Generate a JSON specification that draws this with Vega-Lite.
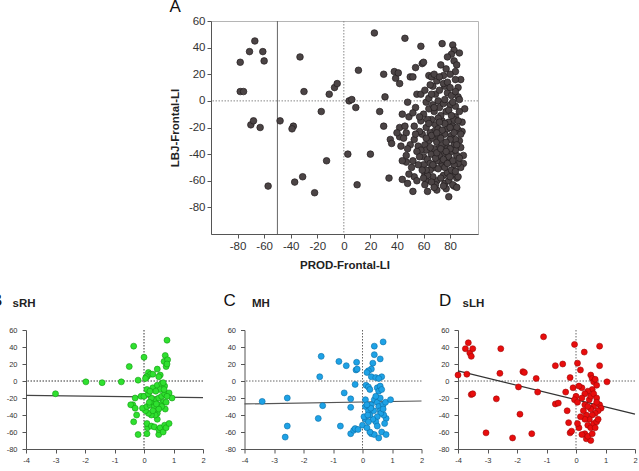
{
  "$schema": "https://vega.github.io/schema/vega-lite/v6.json",
  "background": "white",
  "padding": {"left": -9, "top": -3, "right": 0, "bottom": 0},
  "config": {
    "font": "Liberation Sans",
    "locale": {"number": {"decimal": ".", "thousands": ",", "grouping": [3], "currency": ["$", ""], "minus": "-"}},
    "view": {"stroke": null},
    "axis": {"grid": false, "labelOverlap": false, "labelFlush": false, "tickCount": 20, "format": "d", "domainColor": "#555", "tickColor": "#555", "labelColor": "#333", "titleColor": "#222", "titleFontWeight": "bold", "labelFont": "Liberation Sans", "titleFont": "Liberation Sans"},
    "title": {"font": "Liberation Sans", "fontWeight": "normal", "fontSize": 17, "anchor": "start", "color": "#111"}
  },
  "datasets": {
    "frontal": [
      {"x":-78,"y":29},{"x":-78,"y":7},{"x":-75.5,"y":7},{"x":-71,"y":37},{"x":-67,"y":45},{"x":-61,"y":37},{"x":-60,"y":30},{"x":-70,"y":-18},{"x":-68,"y":-15},{"x":-63,"y":-20},{"x":-57,"y":-64},{"x":-48,"y":-15},{"x":-38,"y":-19},{"x":-39,"y":-21},{"x":-37,"y":-61},{"x":-31,"y":-57},{"x":-33,"y":33},{"x":-30,"y":7},{"x":-22,"y":-69},{"x":-17,"y":-8},{"x":-13,"y":-45},{"x":-11,"y":5},{"x":-7,"y":10},{"x":-5,"y":13},{"x":3,"y":-40},{"x":4,"y":0},{"x":6,"y":1},{"x":9,"y":-5},{"x":10,"y":-63},{"x":11,"y":23},{"x":20,"y":-40},{"x":23,"y":51},{"x":27,"y":-8},{"x":30,"y":-19},{"x":30,"y":20},{"x":31,"y":3},{"x":34,"y":-58},
      {"x":38,"y":22},{"x":39,"y":17},{"x":41,"y":21},{"x":42,"y":13},{"x":35,"y":-29},{"x":36,"y":-32},{"x":42,"y":-20},{"x":42,"y":-27},{"x":43,"y":-34},{"x":44,"y":-59},{"x":46,"y":-19},{"x":46,"y":47},{"x":47,"y":-24},{"x":47,"y":-41},{"x":47,"y":-46},{"x":48,"y":-62},{"x":48,"y":-1},{"x":49,"y":-12},{"x":50,"y":18},{"x":52,"y":18},{"x":52,"y":-45},{"x":52,"y":-68},{"x":53,"y":-57},{"x":53,"y":-19},{"x":53,"y":-29},{"x":54,"y":25},{"x":54,"y":-5},{"x":55,"y":-60},{"x":55,"y":5},{"x":56,"y":-34},{"x":58,"y":5},{"x":58,"y":41},{"x":59,"y":28},{"x":60,"y":29},{"x":58,"y":-15},{"x":60,"y":-42},{"x":61,"y":-55},{"x":62,"y":-1},{"x":62,"y":-60},{"x":63,"y":-68},{"x":64,"y":19},{"x":66,"y":18},{"x":67,"y":11},{"x":68,"y":-8},{"x":70,"y":-67},{"x":71,"y":0},{"x":73,"y":27},{"x":74,"y":43},{"x":75,"y":19},{"x":76,"y":11},{"x":77,"y":-66},{"x":78,"y":6},{"x":79,"y":-72},{"x":82,"y":42},{"x":83,"y":38},{"x":83,"y":30},{"x":84,"y":22},{"x":85,"y":27},{"x":87,"y":36},{"x":86,"y":10},{"x":88,"y":16},{"x":91,"y":-6},{"x":89,"y":-16},{"x":89,"y":-23},{"x":90,"y":-41},{"x":90,"y":-47},{"x":88,"y":-50},{"x":85,"y":-58},{"x":83,"y":-64},
      {"x":60,"y":-10},{"x":62,"y":-20},{"x":64,"y":-30},{"x":66,"y":-40},{"x":68,"y":-50},{"x":70,"y":-60},{"x":72,"y":-5},{"x":74,"y":-15},{"x":76,"y":-25},{"x":78,"y":-35},{"x":80,"y":-45},{"x":82,"y":-55},{"x":84,"y":-12},{"x":86,"y":-22},{"x":63,"y":-44},{"x":65,"y":-52},{"x":67,"y":-28},{"x":69,"y":-18},{"x":71,"y":-36},{"x":73,"y":-46},{"x":75,"y":-56},{"x":77,"y":-8},{"x":79,"y":-16},{"x":81,"y":-26},{"x":83,"y":-33},{"x":85,"y":-41},{"x":87,"y":-30},{"x":61,"y":-33},{"x":64,"y":-6},{"x":66,"y":-14},{"x":68,"y":-23},{"x":70,"y":-31},{"x":72,"y":-41},{"x":74,"y":-49},{"x":76,"y":-62},{"x":78,"y":-54},{"x":80,"y":-3},{"x":82,"y":-19},{"x":84,"y":-29},{"x":86,"y":-47},{"x":59,"y":-25},{"x":62,"y":-37},{"x":65,"y":-47},{"x":67,"y":-57},{"x":69,"y":-63},{"x":71,"y":-21},{"x":73,"y":-11},{"x":75,"y":-2},{"x":77,"y":-44},{"x":79,"y":-60},{"x":81,"y":-38},{"x":83,"y":-48},{"x":85,"y":-20},{"x":87,"y":-8},{"x":60,"y":-48},{"x":63,"y":-56},{"x":66,"y":-61},{"x":70,"y":-45},{"x":72,"y":-27},{"x":74,"y":-33},{"x":76,"y":-39},{"x":78,"y":-21},{"x":80,"y":-29},{"x":82,"y":-63},{"x":84,"y":-4},{"x":86,"y":3},{"x":88,"y":-35},{"x":57,"y":-23},{"x":61,"y":8},{"x":64,"y":2},{"x":67,"y":-3},{"x":69,"y":5},{"x":72,"y":8},{"x":75,"y":13},{"x":78,"y":14},{"x":81,"y":4},{"x":84,"y":7},{"x":87,"y":1},{"x":62,"y":-52},{"x":65,"y":-24},{"x":68,"y":-36},{"x":71,"y":-51},{"x":73,"y":-58},{"x":76,"y":-50},{"x":79,"y":-42},{"x":81,"y":-52},{"x":84,"y":-37},{"x":86,"y":-57},{"x":88,"y":-25},{"x":58,"y":-37},{"x":60,"y":-58},{"x":63,"y":-14},{"x":66,"y":-26},{"x":69,"y":-43},{"x":71,"y":-13},{"x":74,"y":-22},{"x":77,"y":-31},{"x":80,"y":-36},{"x":83,"y":-14},{"x":85,"y":-33},{"x":87,"y":-43},{"x":56,"y":-48},{"x":59,"y":-52},{"x":62,"y":-28},{"x":65,"y":-35},{"x":68,"y":-65},{"x":70,"y":-39},{"x":73,"y":-28},{"x":76,"y":-17},{"x":79,"y":-7},{"x":82,"y":-45},{"x":85,"y":-65},{"x":61,"y":-63},{"x":64,"y":-17},{"x":67,"y":-48},{"x":70,"y":-24},{"x":73,"y":-36},{"x":75,"y":-44},{"x":78,"y":-47},{"x":81,"y":-11},{"x":84,"y":-53},{"x":75,"y":-64},{"x":80,"y":-57},{"x":55,"y":-38},{"x":57,"y":-12},{"x":68,"y":-5},{"x":72,"y":-16},{"x":77,"y":-38},{"x":80,"y":-20},{"x":83,"y":-24},{"x":86,"y":-15},{"x":52,"y":-9},{"x":54,"y":-25},{"x":50,"y":-33},{"x":45,"y":-28},{"x":48,"y":-36},{"x":51,"y":-50},{"x":44,"y":-45},{"x":49,"y":-55},{"x":57,"y":-42},{"x":44,"y":-10},{"x":40,"y":-24},
      {"x":65,"y":12},{"x":68,"y":20},{"x":70,"y":15},{"x":77,"y":24},{"x":80,"y":20},{"x":81,"y":35},{"x":78,"y":33},{"x":72,"y":18},{"x":66,"y":5},{"x":84,"y":16},{"x":80,"y":10},{"x":76,"y":1},{"x":82,"y":-1}
    ],
    "sRH": [
      {"x":-3,"y":-15},{"x":-1.97,"y":-1},{"x":-1.42,"y":-2},{"x":-0.77,"y":-1},{"x":-0.5,"y":17},{"x":-0.35,"y":41},{"x":0,"y":28},{"x":0.1,"y":5},{"x":0.78,"y":48},
      {"x":0.72,"y":30},{"x":0.68,"y":23},{"x":0.75,"y":17},{"x":0.8,"y":25},{"x":0.78,"y":20},{"x":0.45,"y":14},{"x":0.55,"y":7},{"x":0.15,"y":10},{"x":0.22,"y":8},{"x":0.3,"y":8},{"x":0.5,"y":5},{"x":-0.2,"y":1},{"x":0.08,"y":5},{"x":0.05,"y":3},
      {"x":-0.3,"y":-20},{"x":-0.38,"y":-28},{"x":-0.45,"y":-28},{"x":-0.3,"y":-32},{"x":-0.1,"y":-18},{"x":0,"y":-18},{"x":-0.35,"y":-48},{"x":-0.25,"y":-40},{"x":-0.2,"y":-63},{"x":0.1,"y":-62},{"x":0.12,"y":-55},{"x":0.1,"y":-50},{"x":0.25,"y":-53},{"x":0.35,"y":-54},{"x":0.5,"y":-63},{"x":0.5,"y":-57},{"x":0.55,"y":-55},{"x":0.65,"y":-60},{"x":0.7,"y":-52},{"x":0.75,"y":-55},{"x":0.85,"y":-50},
      {"x":0.45,"y":-45},{"x":0.45,"y":-38},{"x":0.38,"y":-40},{"x":0.25,"y":-40},{"x":0.15,"y":-38},{"x":0.05,"y":-35},{"x":-0.05,"y":-32},{"x":0.1,"y":-30},{"x":0.2,"y":-28},{"x":0.3,"y":-25},{"x":0.4,"y":-22},{"x":0.5,"y":-20},{"x":0.6,"y":-18},{"x":0.7,"y":-15},{"x":0.85,"y":-14},{"x":0.95,"y":-20},{"x":0.78,"y":-18},{"x":0.65,"y":-25},{"x":0.55,"y":-28},{"x":0.35,"y":-30},{"x":0.25,"y":-20},{"x":0.15,"y":-15},{"x":0.1,"y":-10},{"x":0.3,"y":-8},{"x":0.45,"y":-5},{"x":0.6,"y":-3},{"x":0.7,"y":-6},{"x":0.65,"y":-2},{"x":0.55,"y":-10},{"x":0.4,"y":-12},{"x":0.2,"y":-12},{"x":0.72,"y":-33},{"x":0.6,"y":-30},{"x":0.5,"y":-33},{"x":0.42,"y":-27},{"x":0.3,"y":-35},{"x":0.18,"y":-25},{"x":0.75,"y":-25},{"x":0.68,"y":-10}
    ],
    "MH": [
      {"x":-3.4,"y":-24},{"x":-2.55,"y":-20},{"x":-2.55,"y":-53},{"x":-2.62,"y":-66},{"x":-1.4,"y":29},{"x":-1.45,"y":5},{"x":-1.35,"y":-29},{"x":-1.5,"y":-44},{"x":-0.8,"y":23},{"x":-0.55,"y":18},{"x":-0.75,"y":-53},{"x":-0.62,"y":-14},{"x":-0.4,"y":-21},{"x":-0.4,"y":-31},{"x":-0.2,"y":22},{"x":-0.22,"y":13},{"x":-0.18,"y":14},{"x":-0.25,"y":-4},
      {"x":-0.4,"y":-62},{"x":-0.3,"y":-58},{"x":-0.25,"y":-56},{"x":-0.15,"y":-57},{"x":0,"y":-52},{"x":0.1,"y":-45},{"x":0.05,"y":-42},
      {"x":0.4,"y":41},{"x":0.7,"y":46},{"x":0.4,"y":31},{"x":0.6,"y":26},{"x":0.35,"y":21},{"x":0.3,"y":14},{"x":0.2,"y":12},{"x":0.15,"y":10},{"x":0.3,"y":5},{"x":0.45,"y":4},{"x":0.65,"y":5},{"x":0.55,"y":3},
      {"x":0.12,"y":-5},{"x":0.2,"y":-7},{"x":0.25,"y":-10},{"x":0.5,"y":-8},{"x":0.55,"y":-12},{"x":0.6,"y":-6},{"x":0.65,"y":-10},
      {"x":0.1,"y":-22},{"x":0.1,"y":-30},{"x":0.2,"y":-35},{"x":0.3,"y":-28},{"x":0.4,"y":-22},{"x":0.5,"y":-25},{"x":0.55,"y":-30},{"x":0.6,"y":-35},{"x":0.7,"y":-28},{"x":0.78,"y":-25},{"x":0.95,"y":-22},{"x":0.8,"y":-44},{"x":0.72,"y":-40},{"x":0.62,"y":-38},{"x":0.5,"y":-42},{"x":0.45,"y":-48},{"x":0.35,"y":-45},{"x":0.25,"y":-40},{"x":0.2,"y":-48},{"x":0.3,"y":-62},{"x":0.4,"y":-63},{"x":0.55,"y":-67},{"x":0.65,"y":-60},{"x":0.8,"y":-63},{"x":0.75,"y":-50},{"x":0.5,"y":-53},{"x":0.38,"y":-35},{"x":0.28,"y":-32},{"x":0.18,"y":-40},{"x":0.15,"y":-28},{"x":0.6,"y":-20},{"x":0.45,"y":-18},{"x":0.7,"y":-33},{"x":0.25,"y":-60},{"x":0.15,"y":-55}
    ],
    "sLH": [
      {"x":-4,"y":7},{"x":-3.7,"y":8},{"x":-3.75,"y":38},{"x":-3.65,"y":45},{"x":-3.6,"y":33},{"x":-3.5,"y":38},{"x":-3.55,"y":29},{"x":-3.55,"y":-16},{"x":-3.5,"y":-15},{"x":-3.05,"y":-61},{"x":-2.7,"y":-21},{"x":-2.58,"y":9},{"x":-2.55,"y":38},{"x":-2.15,"y":-67},{"x":-1.95,"y":-7},{"x":-1.9,"y":-39},{"x":-1.8,"y":11},{"x":-1.75,"y":10},{"x":-1.5,"y":-62},{"x":-1.35,"y":3},{"x":-1.3,"y":-13},{"x":-1.1,"y":52},
      {"x":-0.7,"y":18},{"x":-0.45,"y":20},{"x":-0.7,"y":-27},{"x":-0.6,"y":-26},{"x":-0.35,"y":-13},{"x":-0.3,"y":-35},{"x":-0.25,"y":-49},{"x":-0.2,"y":-61},{"x":-0.15,"y":-59},{"x":-0.2,"y":4},{"x":-0.1,"y":-8},{"x":-0.05,"y":43},{"x":0.05,"y":21},{"x":0.15,"y":13},{"x":0.28,"y":34},{"x":0.8,"y":41},{"x":0.8,"y":18},{"x":1.05,"y":-1},
      {"x":0.5,"y":7},{"x":0.55,"y":3},{"x":0.6,"y":-1},{"x":0.65,"y":2},{"x":0.7,"y":-5},{"x":0.55,"y":-10},{"x":0.4,"y":-12},{"x":0.3,"y":-15},{"x":0.2,"y":-8},{"x":0.1,"y":-6},{"x":0,"y":-18},{"x":-0.05,"y":-22},{"x":0.05,"y":-25},{"x":0.2,"y":-20},{"x":0.3,"y":-28},{"x":0.45,"y":-22},{"x":0.5,"y":-18},{"x":0.6,"y":-15},{"x":0.7,"y":-20},{"x":0.8,"y":-28},{"x":0.85,"y":-32},{"x":0.75,"y":-35},{"x":0.65,"y":-38},{"x":0.55,"y":-40},{"x":0.45,"y":-45},{"x":0.35,"y":-40},{"x":0.25,"y":-35},{"x":0.4,"y":-52},{"x":0.5,"y":-55},{"x":0.6,"y":-50},{"x":0.7,"y":-48},{"x":0.75,"y":-45},{"x":0.3,"y":-62},{"x":0.35,"y":-68},{"x":0.5,"y":-70},{"x":0.4,"y":-65},{"x":0.2,"y":-63},{"x":0.1,"y":-55},{"x":0.05,"y":-50},{"x":0.6,"y":-30},{"x":0.7,"y":-25},{"x":0.5,"y":-33},{"x":0.4,"y":-30},{"x":0.3,"y":-45},{"x":0.15,"y":-42},{"x":0.65,"y":-55},{"x":0.55,"y":-62}
    ],
    "fitRH": [{"x":-4,"y":-17},{"x":2,"y":-19.5}],
    "fitMH": [{"x":-4,"y":-27},{"x":2,"y":-23.5}],
    "fitLH": [{"x":-4,"y":12},{"x":2,"y":-39}]
  },
  "spacing": 20,
  "vconcat": [
    {
      "spacing": 0,
      "hconcat": [
        {"width": 142, "height": 10, "data": {"values": []}, "mark": "point"},
        {
          "width": 267,
          "height": 213,
          "title": {"text": "A", "frame": "bounds", "offset": -1},
          "view": {"stroke": "#b5b5b5"},
          "layer": [
            {
              "data": {"values": [{"x": 0}]},
              "mark": {"type": "rule", "color": "#888", "strokeDash": [1.5, 1.5], "strokeWidth": 1},
              "encoding": {"x": {"field": "x", "type": "quantitative", "title": "PROD-Frontal-LI"}}
            },
            {
              "data": {"values": [{"y": 0}]},
              "mark": {"type": "rule", "color": "#888", "strokeDash": [1.5, 1.5], "strokeWidth": 1},
              "encoding": {"y": {"field": "y", "type": "quantitative", "title": "LBJ-Frontal-LI"}}
            },
            {
              "data": {"values": [{"x": -50}]},
              "mark": {"type": "rule", "color": "#666", "strokeWidth": 1},
              "encoding": {"x": {"field": "x", "type": "quantitative", "title": "PROD-Frontal-LI"}}
            },
            {
              "data": {"name": "frontal"},
              "mark": {"type": "circle", "size": 44, "fill": "#4b4445", "stroke": "#231d1e", "strokeWidth": 0.7, "opacity": 1},
              "encoding": {
                "x": {"field": "x", "type": "quantitative", "title": "PROD-Frontal-LI",
                  "scale": {"domain": [-100, 101], "nice": false, "zero": false},
                  "axis": {"values": [-80, -60, -40, -20, 0, 20, 40, 60, 80], "format": "d", "tickCount": 20, "labelOverlap": false, "labelFontSize": 11.5, "titleFontSize": 11.5, "tickSize": 4, "titlePadding": 8}},
                "y": {"field": "y", "type": "quantitative", "title": "LBJ-Frontal-LI",
                  "scale": {"domain": [-100, 60], "nice": false, "zero": false},
                  "axis": {"values": [-80, -60, -40, -20, 0, 20, 40, 60], "format": "d", "tickCount": 20, "labelOverlap": false, "labelFontSize": 11.5, "titleFontSize": 11.5, "tickSize": 4, "titlePadding": 8}}
              }
            }
          ]
        }
      ]
    },
    {
      "spacing": 17.5,
      "hconcat": [
        {
          "width": 177,
          "height": 119,
          "title": {"text": "B", "frame": "group", "dx": -35, "dy": 17},
          "layer": [
            {"data": {"values": [{"x": 0}]}, "mark": {"type": "rule", "color": "#333", "strokeDash": [1.5, 1.5]}, "encoding": {"x": {"field": "x", "type": "quantitative", "title": null}}},
            {"data": {"values": [{"y": 0}]}, "mark": {"type": "rule", "color": "#333", "strokeDash": [1.5, 1.5]}, "encoding": {"y": {"field": "y", "type": "quantitative", "title": "sRH"}}},
            {"data": {"name": "fitRH"}, "mark": {"type": "line", "color": "#444", "strokeWidth": 1.2}, "encoding": {"x": {"field": "x", "type": "quantitative", "title": null}, "y": {"field": "y", "type": "quantitative", "title": "sRH"}}},
            {
              "data": {"name": "sRH"},
              "mark": {"type": "circle", "size": 36, "fill": "#2fe02f", "stroke": "#129a12", "strokeWidth": 0.6, "opacity": 1},
              "encoding": {
                "x": {"field": "x", "type": "quantitative", "title": null, "scale": {"domain": [-4, 2], "nice": false, "zero": false},
                  "axis": {"values": [-4, -3, -2, -1, 0, 1, 2], "format": "d", "tickCount": 20, "labelOverlap": false, "labelFontSize": 7.5, "tickSize": 4, "labelPadding": 3}},
                "y": {"field": "y", "type": "quantitative", "title": "sRH", "scale": {"domain": [-80, 60], "nice": false, "zero": false},
                  "axis": {"values": [-80, -60, -40, -20, 0, 20, 40, 60], "format": "d", "tickCount": 20, "labelOverlap": false, "labelFontSize": 7.5, "tickSize": 4, "labelPadding": 5, "titleAngle": 0, "titleAlign": "left", "titleBaseline": "alphabetic", "titleX": -14, "titleY": -24, "titleFontSize": 11.5}}
              }
            }
          ]
        },
        {
          "spacing": 13.5,
          "hconcat": [
            {
              "width": 177,
              "height": 119,
              "title": {"text": "C", "frame": "group", "dx": -21, "dy": 17},
              "layer": [
                {"data": {"values": [{"x": 0}]}, "mark": {"type": "rule", "color": "#666", "strokeDash": [1.5, 1.5]}, "encoding": {"x": {"field": "x", "type": "quantitative", "title": null}}},
                {"data": {"values": [{"y": 0}]}, "mark": {"type": "rule", "color": "#666", "strokeDash": [1.5, 1.5]}, "encoding": {"y": {"field": "y", "type": "quantitative", "title": "MH"}}},
                {"data": {"name": "fitMH"}, "mark": {"type": "line", "color": "#555", "strokeWidth": 1.2}, "encoding": {"x": {"field": "x", "type": "quantitative", "title": null}, "y": {"field": "y", "type": "quantitative", "title": "MH"}}},
                {
                  "data": {"name": "MH"},
                  "mark": {"type": "circle", "size": 36, "fill": "#1ea2e6", "stroke": "#0c6fa6", "strokeWidth": 0.6, "opacity": 1},
                  "encoding": {
                    "x": {"field": "x", "type": "quantitative", "title": null, "scale": {"domain": [-4, 2], "nice": false, "zero": false},
                      "axis": {"values": [-4, -3, -2, -1, 0, 1, 2], "format": "d", "tickCount": 20, "labelOverlap": false, "labelFontSize": 7.5, "tickSize": 4, "labelPadding": 3}},
                    "y": {"field": "y", "type": "quantitative", "title": "MH", "scale": {"domain": [-80, 60], "nice": false, "zero": false},
                      "axis": {"values": [-80, -60, -40, -20, 0, 20, 40, 60], "format": "d", "tickCount": 20, "labelOverlap": false, "labelFontSize": 7.5, "tickSize": 4, "labelPadding": 5, "titleAngle": 0, "titleAlign": "left", "titleBaseline": "alphabetic", "titleX": 7, "titleY": -24, "titleFontSize": 11.5}}
                  }
                }
              ]
            },
            {
              "width": 177,
              "height": 119,
              "title": {"text": "D", "frame": "group", "dx": -19, "dy": 17},
              "layer": [
                {"data": {"values": [{"x": 0}]}, "mark": {"type": "rule", "color": "#666", "strokeDash": [1.5, 1.5]}, "encoding": {"x": {"field": "x", "type": "quantitative", "title": null}}},
                {"data": {"values": [{"y": 0}]}, "mark": {"type": "rule", "color": "#666", "strokeDash": [1.5, 1.5]}, "encoding": {"y": {"field": "y", "type": "quantitative", "title": "sLH"}}},
                {"data": {"name": "fitLH"}, "mark": {"type": "line", "color": "#333", "strokeWidth": 1.2}, "encoding": {"x": {"field": "x", "type": "quantitative", "title": null}, "y": {"field": "y", "type": "quantitative", "title": "sLH"}}},
                {
                  "data": {"name": "sLH"},
                  "mark": {"type": "circle", "size": 36, "fill": "#e80d0d", "stroke": "#a00808", "strokeWidth": 0.6, "opacity": 1},
                  "encoding": {
                    "x": {"field": "x", "type": "quantitative", "title": null, "scale": {"domain": [-4, 2], "nice": false, "zero": false},
                      "axis": {"values": [-4, -3, -2, -1, 0, 1, 2], "format": "d", "tickCount": 20, "labelOverlap": false, "labelFontSize": 7.5, "tickSize": 4, "labelPadding": 3}},
                    "y": {"field": "y", "type": "quantitative", "title": "sLH", "scale": {"domain": [-80, 60], "nice": false, "zero": false},
                      "axis": {"values": [-80, -60, -40, -20, 0, 20, 40, 60], "format": "d", "tickCount": 20, "labelOverlap": false, "labelFontSize": 7.5, "tickSize": 4, "labelPadding": 5, "titleAngle": 0, "titleAlign": "left", "titleBaseline": "alphabetic", "titleX": 4, "titleY": -24, "titleFontSize": 11.5}}
                  }
                }
              ]
            }
          ]
        }
      ]
    }
  ]
}
